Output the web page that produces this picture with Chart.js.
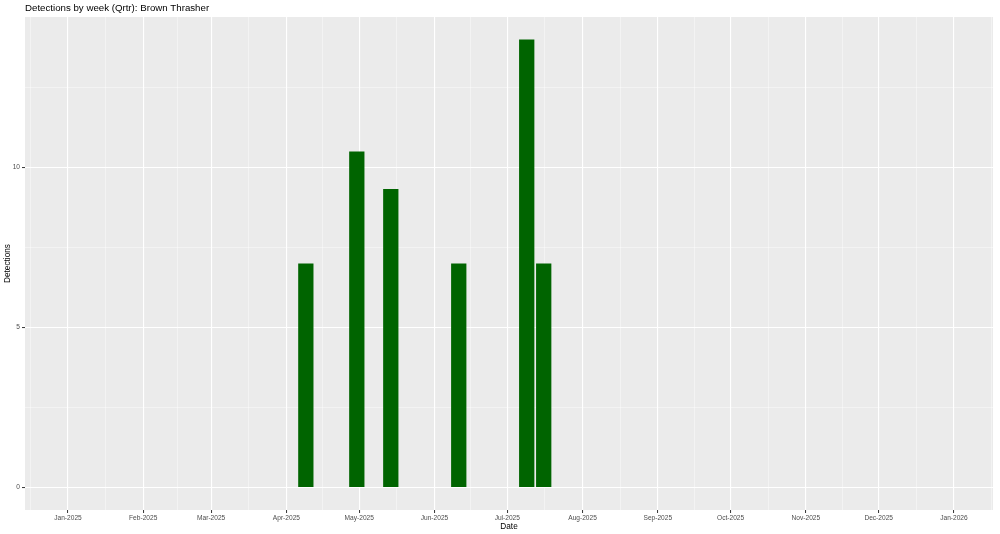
<!DOCTYPE html>
<html>
<head>
<meta charset="utf-8">
<script src="https://cdn.jsdelivr.net/npm/chart.js@4/dist/chart.umd.min.js"></script>
<style>
  html, body { margin: 0; padding: 0; background: #fff; }
  #wrap { width: 1000px; height: 534px; position: relative; }
</style>
</head>
<body>
<div id="wrap"><canvas id="myChart"></canvas></div>
<script>
// weekly detections (bar centres = week dates)
var weeks = ["2025-04-09", "2025-04-30", "2025-05-14", "2025-06-11", "2025-07-09", "2025-07-16"];
var detections = [7, 10.5, 9.33, 7, 14, 7];

// x axis breaks
var monthStarts = ["2025-01-01", "2025-02-01", "2025-03-01", "2025-04-01", "2025-05-01", "2025-06-01",
  "2025-07-01", "2025-08-01", "2025-09-01", "2025-10-01", "2025-11-01", "2025-12-01", "2026-01-01"];
var monthLabels = ["Jan-2025", "Feb-2025", "Mar-2025", "Apr-2025", "May-2025", "Jun-2025",
  "Jul-2025", "Aug-2025", "Sep-2025", "Oct-2025", "Nov-2025", "Dec-2025", "Jan-2026"];

// y axis breaks
var yMajor = [0, 5, 10];
var yMinor = [2.5, 7.5, 12.5];

var DAY = 86400000;
var origin = Date.UTC(2025, 0, 1);
function toDay(s) {
  var p = s.split("-");
  return (Date.UTC(+p[0], +p[1] - 1, +p[2]) - origin) / DAY;
}

var monthDays = monthStarts.map(toDay);
var xMinor = [];
xMinor.push((toDay("2024-12-01") + monthDays[0]) / 2);
for (var i = 0; i < monthDays.length - 1; i++) xMinor.push((monthDays[i] + monthDays[i + 1]) / 2);
xMinor.push((monthDays[monthDays.length - 1] + toDay("2026-02-01")) / 2);

var points = weeks.map(function (w, i) { return { x: toDay(w), y: detections[i] }; });

var FONT = "'Liberation Sans', Arial, sans-serif";

var panelBg = {
  id: "panelBg",
  beforeDraw: function (chart) {
    var a = chart.chartArea, c = chart.ctx;
    c.save();
    c.fillStyle = "#EBEBEB";
    c.fillRect(a.left, a.top, a.right - a.left, a.bottom - a.top);
    c.restore();
  },
  afterDraw: function (chart) {
    var c = chart.ctx;
    c.save();
    c.fillStyle = "#000";
    c.font = "9.7px " + FONT;
    c.textBaseline = "middle";
    c.textAlign = "left";
    c.fillText("Detections by week (Qrtr): Brown Thrasher", chart.chartArea.left, 8.5);
    c.restore();
  }
};

function gridColor(ctx) { return ctx.tick && ctx.tick.minor ? "rgba(255,255,255,0.75)" : "#FFFFFF"; }
function gridWidth(ctx) { return ctx.tick && ctx.tick.minor ? 0.55 : 1.1; }
function tickColor(ctx) { return ctx.tick && ctx.tick.minor ? "rgba(0,0,0,0)" : "#333333"; }

var ctx = document.getElementById("myChart").getContext("2d");
var chart = new Chart(ctx, {
  type: "bar",
  data: {
    datasets: [{
      label: "Detections",
      data: points,
      backgroundColor: "#006400",
      borderWidth: 0,
      categoryPercentage: 0.9,
      barPercentage: 1.0
    }]
  },
  plugins: [panelBg],
  options: {
    responsive: true,
    maintainAspectRatio: false,
    animation: false,
    layout: { padding: { top: 17, right: 7, left: 0, bottom: 0 } },
    plugins: {
      legend: { display: false },
      tooltip: { enabled: false },
      title: { display: false }
    },
    scales: {
      x: {
        type: "linear",
        offset: false,
        min: -17.7,
        max: 381.1,
        afterBuildTicks: function (scale) {
          var t = [];
          monthDays.forEach(function (d) { t.push({ value: d, minor: false }); });
          xMinor.forEach(function (d) { t.push({ value: d, minor: true }); });
          t.sort(function (a, b) { return a.value - b.value; });
          scale.ticks = t.filter(function (k) { return k.value >= scale.min && k.value <= scale.max; });
        },
        afterFit: function (scale) { scale.height = 24; },
        ticks: {
          autoSkip: false,
          maxRotation: 0,
          padding: 1,
          color: "#4D4D4D",
          font: { family: FONT, size: 6.6 },
          callback: function (v) {
            var k = monthDays.indexOf(v);
            return k >= 0 ? monthLabels[k] : "";
          }
        },
        grid: {
          offset: false,
          color: gridColor,
          lineWidth: gridWidth,
          tickColor: tickColor,
          tickWidth: 1,
          tickLength: 3
        },
        border: { display: false },
        title: {
          display: true,
          text: "Date",
          color: "#000",
          font: { family: FONT, size: 8.25 },
          padding: { top: 0, bottom: 2 }
        }
      },
      y: {
        min: -0.7,
        max: 14.7,
        afterBuildTicks: function (scale) {
          var t = [];
          yMajor.forEach(function (v) { t.push({ value: v, minor: false }); });
          yMinor.forEach(function (v) { t.push({ value: v, minor: true }); });
          t.sort(function (a, b) { return a.value - b.value; });
          scale.ticks = t;
        },
        afterFit: function (scale) { scale.width = 25; },
        ticks: {
          padding: 2,
          color: "#4D4D4D",
          font: { family: FONT, size: 6.6 },
          callback: function (v) { return yMajor.indexOf(v) >= 0 ? String(v) : ""; }
        },
        grid: {
          color: gridColor,
          lineWidth: gridWidth,
          tickColor: tickColor,
          tickWidth: 1,
          tickLength: 3
        },
        border: { display: false },
        title: {
          display: true,
          text: "Detections",
          color: "#000",
          font: { family: FONT, size: 8.25 },
          padding: { top: 3, bottom: 0 }
        }
      }
    }
  }
});
</script>
</body>
</html>
